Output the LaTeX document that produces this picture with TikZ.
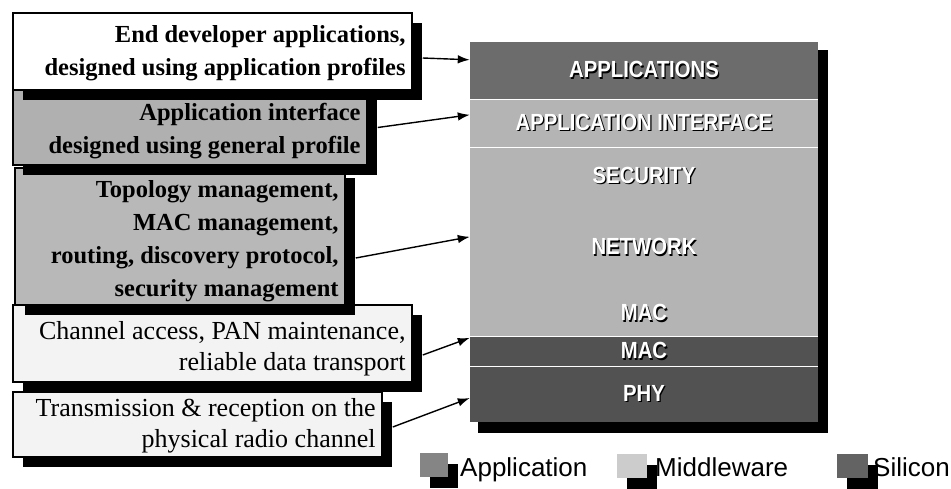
\documentclass[tikz,border=0pt]{standalone}
\usepackage{fontspec}
\setmainfont{Liberation Serif}
\newfontfamily\sansfam{Liberation Sans}
\usetikzlibrary{arrows.meta,shadows}
\definecolor{appgray}{HTML}{6C6C6C}
\definecolor{midgray}{HTML}{B4B4B4}
\definecolor{silgray}{HTML}{525252}
\definecolor{boxgray}{HTML}{B0B0B0}
\definecolor{boxgrayb}{HTML}{B8B8B8}
\definecolor{dotwhite}{HTML}{F3F3F3}
\newcommand\bandlbl[1]{\scalebox{1}[1.15]{\makebox[0pt][l]{\hspace{1.3pt}\raisebox{-1.3pt}{\textcolor{black}{#1}}}#1}}
\tikzset{
  descbox/.style={draw=black, line width=1.5pt, inner sep=0pt,
    drop shadow={shadow xshift=10pt, shadow yshift=-10pt, fill=black, opacity=1}},
  desctxt/.style={anchor=east, align=right, inner sep=0pt},
  boldtxt/.style={font=\bfseries\fontsize{24.5}{33}\selectfont},
  regtxt/.style={font=\fontsize{26}{31}\selectfont},
  band/.style={minimum width=348pt, inner sep=0pt, text=white, font=\sansfam\bfseries\fontsize{20.3}{22}\selectfont},
  sepline/.style={draw=white, line width=0.9pt},
  conn/.style={draw=black, line width=1.4pt, -{Latex[length=12pt,width=8.5pt]}},
  swatch/.style={minimum width=28pt, minimum height=24pt, inner sep=0pt,
    drop shadow={shadow xshift=10pt, shadow yshift=-11pt, fill=black, opacity=1}},
  legtxt/.style={anchor=base west, inner sep=0pt, font=\sansfam\fontsize{26}{28}\selectfont}
}
\begin{document}
\begin{tikzpicture}[x=1pt,y=-1pt]
\useasboundingbox[fill=white] (0,0) rectangle (951,488);

% stack shadow
\fill[black] (478,50) rectangle (828,433);
% stack bands
\node[band, fill=appgray, minimum height=57pt] (apps) at (644,70.5) {\bandlbl{APPLICATIONS}};
\node[band, fill=midgray, minimum height=48pt] (apif) at (644,123) {\bandlbl{APPLICATION INTERFACE}};
\node[band, fill=midgray, minimum height=58pt] (sec) at (644,176) {\bandlbl{SECURITY}};
\node[band, fill=midgray, minimum height=85pt] (net) at (644,247.5) {\bandlbl{NETWORK}};
\node[band, fill=midgray, minimum height=47pt] (mmac) at (644,313.5) {\raisebox{-3pt}{\bandlbl{MAC}}};
\node[band, fill=silgray, minimum height=29pt] (smac) at (644,351.5) {\bandlbl{MAC}};
\node[band, fill=silgray, minimum height=56pt] (phy) at (644,394) {\bandlbl{PHY}};
\draw[sepline] (apps.south west) -- (apps.south east);
\draw[sepline] (apif.south west) -- (apif.south east);
\draw[sepline] (smac.north west) -- (smac.north east);
\draw[sepline] (smac.south west) -- (smac.south east);

% description boxes (drawn bottom to top so upper shadows overlap)
\node[descbox, fill=dotwhite, minimum width=369pt, minimum height=65pt] (d5) at (197.5,424.5) {};
\node[desctxt, regtxt] (t5) at ([xshift=-7pt,yshift=-1pt]d5.east)
  {Transmission \& reception on the\\physical radio channel};
\node[descbox, fill=dotwhite, minimum width=399pt, minimum height=77pt] (d4) at (212.5,343.5) {};
\node[desctxt, regtxt] (t4) at ([xshift=-7pt,yshift=-5pt]d4.east)
  {Channel access, PAN maintenance,\\reliable data transport};
\node[descbox, fill=boxgrayb, minimum width=330pt, minimum height=137pt] (d3) at (180,236.5) {};
\node[desctxt, boldtxt] (t3) at ([xshift=-7pt,yshift=-4.5pt]d3.east)
  {Topology management,\\MAC management,\\routing, discovery protocol,\\security management};
\node[descbox, fill=boxgray, minimum width=354pt, minimum height=75pt] (d2) at (190,127.5) {};
\node[desctxt, boldtxt] (t2) at ([xshift=-7pt,yshift=-4pt]d2.east)
  {Application interface\\designed using general profile};
\node[descbox, fill=white, minimum width=399pt, minimum height=77pt] (d1) at (212.5,51.5) {};
\node[desctxt, boldtxt] (t1) at ([xshift=-7pt,yshift=-2pt]d1.east)
  {End developer applications,\\designed using application profiles};

% connectors
\draw[conn] ([xshift=10pt,yshift=-6.5pt]d1.east) -- ([yshift=-18pt]apps.north west);
\draw[conn] ([xshift=10pt]d2.east) -- ([yshift=-16pt]apif.north west);
\draw[conn] ([xshift=10pt,yshift=-21.5pt]d3.east) -- ([yshift=-32pt]net.north west);
\draw[conn] ([xshift=10pt,yshift=-11.5pt]d4.east) -- ([yshift=-1pt]smac.north west);
\draw[conn] ([xshift=10pt,yshift=-2.5pt]d5.east) -- ([yshift=-4pt]phy.west);

% legend
\node[swatch, fill=black!48] (lapp) at (434,465) {};
\node[legtxt] (tapp) at (460,476) {Application};
\node[swatch, fill=black!20, minimum width=30pt] (lmid) at (632,465.5) {};
\node[legtxt] (tmid) at (655,476) {Middleware};
\node[swatch, fill=silgray!90!white, minimum width=31pt] (lsil) at (852.5,465.5) {};
\node[legtxt] (tsil) at (873,476) {Silicon};
\end{tikzpicture}
\end{document}
